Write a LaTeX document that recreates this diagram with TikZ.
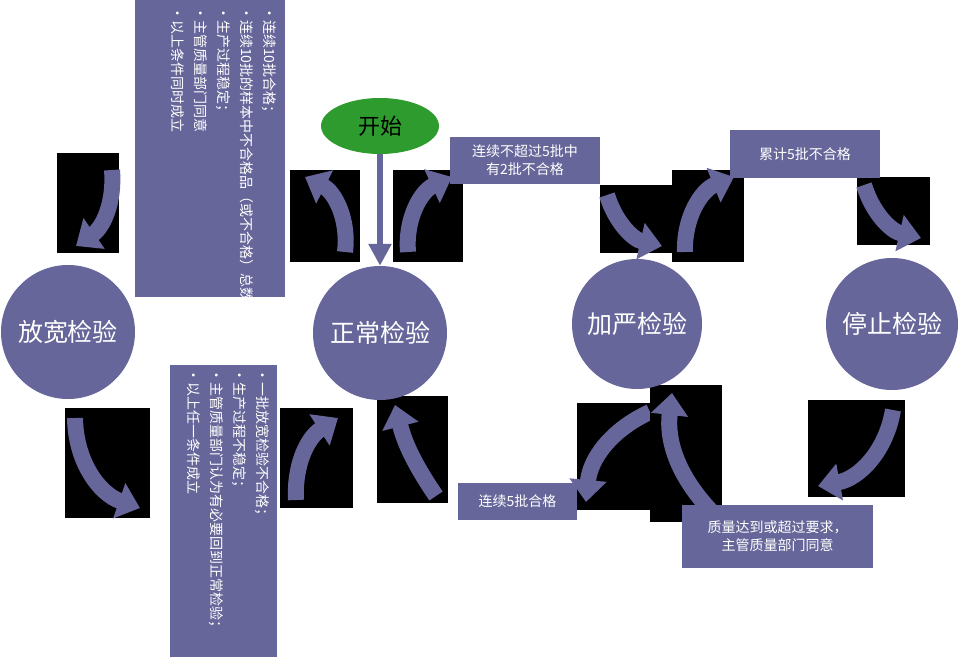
\documentclass[tikz,border=0pt]{standalone}
\usepackage{fontspec}
\setmainfont{Noto Sans CJK SC}
\usetikzlibrary{arrows.meta,shapes.geometric}
\definecolor{pur}{HTML}{66669A}
\definecolor{grn}{HTML}{2E9B2E}
\tikzset{
  st/.style={circle,fill=pur,text=white,minimum size=134pt,inner sep=0pt,font=\fontsize{25}{28}\selectfont},
  lab/.style={fill=pur,text=white,font=\fontsize{14}{18}\selectfont,align=center,inner sep=0pt},
  blk/.style={fill=black},
  carr/.style={pur,line width=16pt,-{Triangle[length=22pt,width=36pt]}},
  vt/.style={rotate=-90,anchor=north west,text=white,font=\fontsize{14}{23}\selectfont,align=left,inner sep=0pt}
}
\begin{document}
\begin{tikzpicture}[x=1pt,y=-1pt]
\useasboundingbox (0,0) rectangle (962,658);
% black boxes with curved arrows
\fill[blk] (57,153) rectangle (119,253);
\draw[carr] (112,170) to[bend left=30] (76,246);
\fill[blk] (290,170) rectangle (360,262);
\draw[carr] (345,252) to[bend left=-35] (305,177);
\fill[blk] (393,170) rectangle (463,262);
\draw[carr] (408,252) to[bend left=35] (452,177);
\fill[blk] (600,185) rectangle (672,253);
\draw[carr] (607,195) to[bend right=30] (662,246);
\fill[blk] (672,170) rectangle (744,262);
\draw[carr] (685,252) to[bend left=35] (734,177);
\fill[blk] (857,177) rectangle (930,245);
\draw[carr] (864,185) to[bend right=30] (921,238);
\fill[blk] (65,408) rectangle (150,518);
\draw[carr] (75,418) to[bend right=35] (140,508);
\fill[blk] (280,408) rectangle (353,508);
\draw[carr] (296,500) to[bend left=30] (338,418);
\fill[blk] (377,396) rectangle (448,503);
\draw[carr] (436,496) to[bend right=-10] (395,405);
\fill[blk] (577,403) rectangle (660,510);
\draw[carr] (650,412) to[bend right=30] (586,502);
\fill[blk] (650,385) rectangle (722,522);
\draw[carr] (712,512) to[bend left=25] (672,393);
\fill[blk] (808,400) rectangle (905,497);
\draw[carr] (893,410) to[bend left=35] (818,486);
% states
\node[st] (fk) at (68,332) {放宽检验};
\node[st] (zc) at (380,333) {正常检验};
\node[st,minimum size=130pt] (jy) at (637,324) {加严检验};
\node[st,minimum size=132pt] (tz) at (892,324) {停止检验};
\node[ellipse,fill=grn,minimum width=118pt,minimum height=56pt,inner sep=0pt,font=\fontsize{22}{26}\selectfont] (ks) at (380,126) {开始};
\draw[pur,line width=6pt,-{Triangle[length=22pt,width=22pt]}] (ks.south) -- (zc.north);
% labels
\node[lab,minimum width=150pt,minimum height=47pt] (l1) at (525,160.5) {连续不超过5批中\\有2批不合格};
\node[lab,minimum width=150pt,minimum height=48pt] (l2) at (805,154) {累计5批不合格};
\node[lab,minimum width=119pt,minimum height=37pt] (l3) at (517.5,501.5) {连续5批合格};
\node[lab,minimum width=191pt,minimum height=63pt] (l4) at (777.5,536.5) {质量达到或超过要求，\\主管质量部门同意};
% vertical boxes
\fill[pur] (135,0) rectangle (285,297);
\node[vt,text width=286pt] (v1) at (276,6) {•连续10批合格；\\•连续10批的样本中不合格品（或不合格）总数小于或等于L\textsubscript{R}；\\•生产过程稳定；\\•主管质量部门同意\\•以上条件同时成立};
\fill[pur] (170,365) rectangle (277,657);
\node[vt,text width=285pt] (v2) at (270,368) {•一批放宽检验不合格；\\•生产过程不稳定；\\•主管质量部门认为有必要回到正常检验；\\•以上任一条件成立};
\end{tikzpicture}
\end{document}
